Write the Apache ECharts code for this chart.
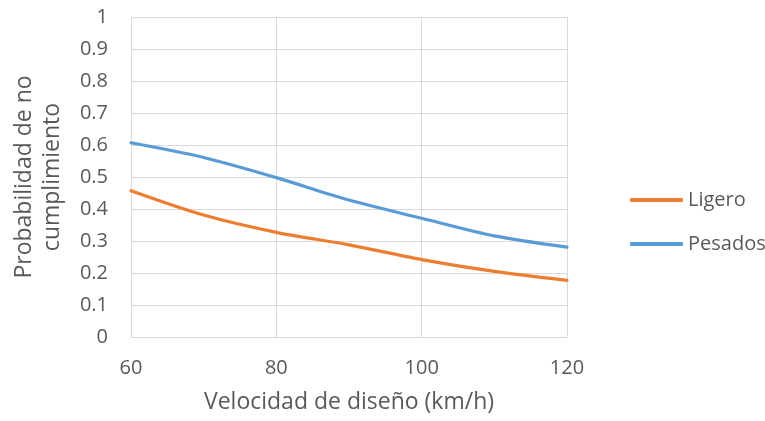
<!DOCTYPE html>
<html>
<head>
<meta charset="utf-8">
<script src="https://cdn.jsdelivr.net/npm/echarts@6/dist/echarts.min.js"></script>
<style>
  html, body { margin: 0; padding: 0; background: #fff; }
  #chart { width: 765px; height: 421px; }
</style>
</head>
<body>
<div id="chart"></div>
<script>
// Design speeds (km/h)
const velocidades = [60, 70, 80, 90, 100, 110, 120];
// Probability of non-compliance per vehicle type
const ligero = [0.457, 0.381, 0.327, 0.288, 0.242, 0.205, 0.177];
const pesados = [0.607, 0.561, 0.498, 0.428, 0.371, 0.316, 0.281];

const FONT = '"Open Sans", "Liberation Sans", sans-serif';
const TEXT = '#595959';
const GRID = '#d9d9d9';

const chart = echarts.init(document.getElementById('chart'), null, { renderer: 'canvas' });

const pairs = (ys) => velocidades.map((x, i) => [x, ys[i]]);

chart.setOption({
  animation: false,
  textStyle: { fontFamily: FONT },
  grid: { left: 131, right: 198, top: 17, bottom: 84, containLabel: false, outerBoundsMode: 'none' },
  legend: {
    left: 625, top: 185,
    orient: 'vertical',
    itemWidth: 53, itemHeight: 4, itemGap: 24,
    icon: 'roundRect',
    textStyle: { fontFamily: FONT, fontSize: 20, lineHeight: 20, color: TEXT },
    data: ['Ligero', 'Pesados']
  },
  xAxis: {
    type: 'value', min: 60, max: 120, interval: 20,
    name: 'Velocidad de diseño (km/h)',
    nameLocation: 'middle', nameGap: 54,
    nameTextStyle: { fontFamily: FONT, fontSize: 23, color: TEXT },
    axisLine: { show: true, lineStyle: { color: GRID, width: 1 } },
    axisTick: { show: false },
    axisLabel: { fontFamily: FONT, fontSize: 20, color: TEXT, margin: 21 },
    splitLine: { show: true, lineStyle: { color: GRID, width: 1 } }
  },
  yAxis: {
    type: 'value', min: 0, max: 1, interval: 0.1,
    name: 'Probabilidad de no\ncumplimiento',
    nameLocation: 'middle', nameGap: 65, nameRotate: 90,
    nameTextStyle: { fontFamily: FONT, fontSize: 23, color: TEXT, lineHeight: 28 },
    axisLine: { show: true, lineStyle: { color: GRID, width: 1 } },
    axisTick: { show: false },
    axisLabel: { fontFamily: FONT, fontSize: 20, color: TEXT, margin: 23,
      formatter: v => String(Math.round(v * 10) / 10) },
    splitLine: { show: true, lineStyle: { color: GRID, width: 1 } }
  },
  series: [
    {
      name: 'Ligero', type: 'line', data: pairs(ligero),
      smooth: 0.3, showSymbol: false, symbol: 'none',
      lineStyle: { color: '#ed7d31', width: 3.2, cap: 'round' },
      itemStyle: { color: '#ed7d31' }
    },
    {
      name: 'Pesados', type: 'line', data: pairs(pesados),
      smooth: 0.3, showSymbol: false, symbol: 'none',
      lineStyle: { color: '#5b9bd5', width: 3.2, cap: 'round' },
      itemStyle: { color: '#5b9bd5' }
    }
  ]
});
</script>
</body>
</html>
